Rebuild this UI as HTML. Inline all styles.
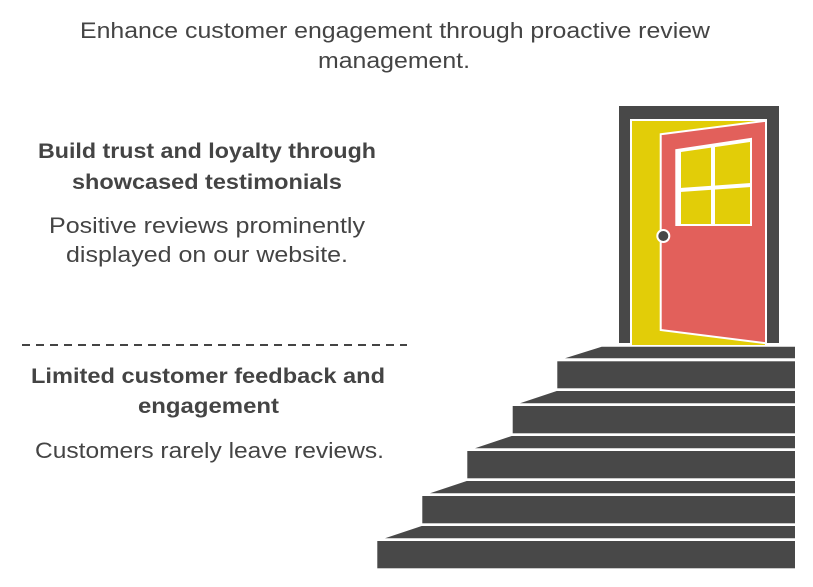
<!DOCTYPE html>
<html><head><meta charset="utf-8"><style>
html,body{margin:0;padding:0;background:#fff;}
svg{display:block;}
text{font-family:"Liberation Sans",sans-serif;fill:#444;}
</style></head><body>
<svg width="813" height="587" viewBox="0 0 813 587" xmlns="http://www.w3.org/2000/svg">
<text x="80" y="38" font-size="22" textLength="630" lengthAdjust="spacingAndGlyphs">Enhance customer engagement through proactive review</text>
<text x="318" y="68" font-size="22" textLength="152" lengthAdjust="spacingAndGlyphs">management.</text>

<text x="38" y="158" font-size="21" font-weight="bold" textLength="338" lengthAdjust="spacingAndGlyphs">Build trust and loyalty through</text>
<text x="72" y="189" font-size="21" font-weight="bold" textLength="270" lengthAdjust="spacingAndGlyphs">showcased testimonials</text>
<text x="49" y="233" font-size="22" textLength="316" lengthAdjust="spacingAndGlyphs">Positive reviews prominently</text>
<text x="66" y="262" font-size="22" textLength="282" lengthAdjust="spacingAndGlyphs">displayed on our website.</text>

<line x1="22" y1="345" x2="407" y2="345" stroke="#444" stroke-width="2" stroke-dasharray="8,6"/>

<text x="31" y="383" font-size="21" font-weight="bold" textLength="354" lengthAdjust="spacingAndGlyphs">Limited customer feedback and</text>
<text x="138" y="413" font-size="21" font-weight="bold" textLength="141" lengthAdjust="spacingAndGlyphs">engagement</text>
<text x="35" y="458" font-size="22" textLength="349" lengthAdjust="spacingAndGlyphs">Customers rarely leave reviews.</text>

<!-- door frame -->
<rect x="619" y="106" width="160" height="237" fill="#484848"/>
<rect x="630" y="119" width="137" height="226" fill="#fff"/>
<rect x="632" y="121" width="133" height="224" fill="#e2cd08"/>
<polygon points="660.7,134.3 766,120.7 766,343.3 660.7,330" fill="#e2605b" stroke="#fff" stroke-width="2"/>
<!-- window -->
<polygon points="675.3,149.3 752,137.7 752,226 675.3,226" fill="#fff"/>
<polygon points="681,152 750,142 750,224 681,224" fill="#e2cd08"/>
<line x1="713" y1="145" x2="713" y2="225" stroke="#fff" stroke-width="4"/>
<line x1="680" y1="190" x2="751" y2="185" stroke="#fff" stroke-width="4"/>
<line x1="678.5" y1="150" x2="678.5" y2="225" stroke="#fff" stroke-width="1"/>
<line x1="677" y1="151" x2="751" y2="140" stroke="#fff" stroke-width="1"/>
<circle cx="663.3" cy="236" r="6" fill="#484848" stroke="#fff" stroke-width="2"/>

<!-- stairs -->
<g fill="#484848">
<polygon points="601.7,346.7 795,346.7 795,358.3 565,358.3"/>
<rect x="557.3" y="361.3" width="237.7" height="27"/>
<polygon points="556.7,391 795,391 795,403.3 520,403.3"/>
<rect x="512.7" y="406" width="282.3" height="27.3"/>
<polygon points="511.7,436 795,436 795,448.3 475,448.3"/>
<rect x="467.3" y="451" width="327.7" height="27.3"/>
<polygon points="466.7,481 795,481 795,493.3 430,493.3"/>
<rect x="422.3" y="496" width="372.7" height="27.3"/>
<polygon points="421.7,526 795,526 795,538.3 385,538.3"/>
<rect x="377.3" y="541" width="417.7" height="27.3"/>
</g>
</svg>
</body></html>
